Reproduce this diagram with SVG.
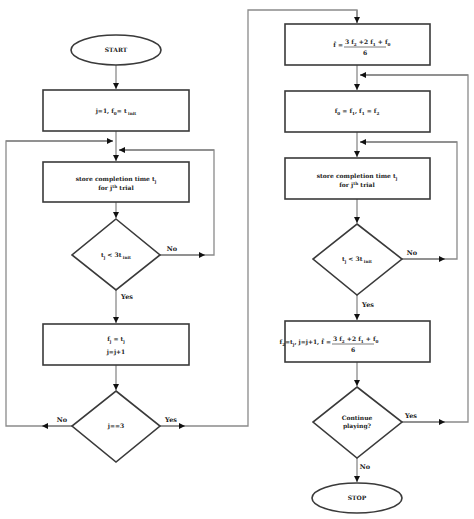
<svg xmlns="http://www.w3.org/2000/svg" width="474" height="519" viewBox="0 0 474 519">
<style>
.box{fill:#fff;stroke:#3a3a3a;stroke-width:1.6}
.con{fill:none;stroke:#8a8a8a;stroke-width:1.3}
text{font-family:"DejaVu Serif","Liberation Serif",serif;font-weight:bold;fill:#222;font-size:6px;text-anchor:middle}
.sm{font-size:4.2px}
.lb{font-size:6.5px}
.e{text-anchor:end}
.s{text-anchor:start}
</style>
<defs>
<marker id="ah" markerWidth="8" markerHeight="8" refX="6" refY="3" orient="auto" markerUnits="userSpaceOnUse">
<path d="M0,0 L6,3 L0,6 Z" fill="#111"/>
</marker>
</defs>
<rect width="474" height="519" fill="#fff"/>
<g id="connectors">
<line class="con" x1="116" y1="65" x2="116" y2="89" marker-end="url(#ah)"/>
<line class="con" x1="116" y1="131" x2="116" y2="161" marker-end="url(#ah)"/>
<polyline class="con" points="72,426 6,426 6,141 113,141"/>
<line class="con" x1="72" y1="426" x2="42" y2="426" marker-end="url(#ah)"/>
<line class="con" x1="6" y1="141" x2="113" y2="141" marker-end="url(#ah)"/>
<polyline class="con" points="160,255 214,255 214,150 119,150"/>
<line class="con" x1="160" y1="255" x2="205" y2="255" marker-end="url(#ah)"/>
<line class="con" x1="214" y1="150" x2="119" y2="150" marker-end="url(#ah)"/>
<line class="con" x1="116" y1="202" x2="116" y2="218" marker-end="url(#ah)"/>
<line class="con" x1="116" y1="290" x2="116" y2="323" marker-end="url(#ah)"/>
<line class="con" x1="116" y1="365" x2="116" y2="390" marker-end="url(#ah)"/>
<polyline class="con" points="160,426 248,426 248,10 357,10 357,23"/>
<line class="con" x1="160" y1="426" x2="185" y2="426" marker-end="url(#ah)"/>
<line class="con" x1="357" y1="10" x2="357" y2="23" marker-end="url(#ah)"/>
<line class="con" x1="357" y1="65" x2="357" y2="90" marker-end="url(#ah)"/>
<polyline class="con" points="402,422 468,422 468,75 360,75"/>
<line class="con" x1="402" y1="422" x2="445" y2="422" marker-end="url(#ah)"/>
<line class="con" x1="468" y1="75" x2="360" y2="75" marker-end="url(#ah)"/>
<line class="con" x1="357" y1="132" x2="357" y2="157" marker-end="url(#ah)"/>
<polyline class="con" points="402,259 457,259 457,142 360,142"/>
<line class="con" x1="402" y1="259" x2="445" y2="259" marker-end="url(#ah)"/>
<line class="con" x1="457" y1="142" x2="360" y2="142" marker-end="url(#ah)"/>
<line class="con" x1="357" y1="199" x2="357" y2="223" marker-end="url(#ah)"/>
<line class="con" x1="357" y1="295" x2="357" y2="320" marker-end="url(#ah)"/>
<line class="con" x1="357" y1="362" x2="357" y2="386" marker-end="url(#ah)"/>
<line class="con" x1="357" y1="458" x2="357" y2="482" marker-end="url(#ah)"/>
<text class="lb" x="172" y="251">No</text>
<text class="lb" x="127" y="299">Yes</text>
<text class="lb" x="62" y="422">No</text>
<text class="lb" x="171" y="422">Yes</text>
<text class="lb" x="412" y="255">No</text>
<text class="lb" x="368" y="307">Yes</text>
<text class="lb" x="411" y="418">Yes</text>
<text class="lb" x="365" y="469">No</text>
</g>
<g id="start">
<ellipse class="box" cx="116" cy="50" rx="45" ry="15"/>
<text x="116" y="52">START</text>
</g>
<g id="init">
<rect class="box" x="43" y="90" width="146" height="41"/>
<text x="116" y="113">j=1,  f<tspan class="sm" dy="1.5">0</tspan><tspan dy="-1.5">= t</tspan><tspan class="sm" dy="1.5"> init</tspan></text>
</g>
<g id="store1">
<rect class="box" x="43" y="162" width="146" height="40"/>
<text x="116" y="181">store completion time  t<tspan class="sm" dy="1.5">j</tspan></text>
<text x="116" y="190">for j<tspan class="sm" dy="-2">th</tspan><tspan dy="2"> trial</tspan></text>
</g>
<g id="check1">
<polygon class="box" points="116,219 160,255 116,290 72,255"/>
<text x="116" y="257">t<tspan class="sm" dy="1.5">j</tspan><tspan dy="-1.5">  &lt;  3t</tspan><tspan class="sm" dy="1.5"> init</tspan></text>
</g>
<g id="assign">
<rect class="box" x="43" y="324" width="146" height="41"/>
<text x="116" y="341">f<tspan class="sm" dy="1.5">j</tspan><tspan dy="-1.5">  =  t</tspan><tspan class="sm" dy="1.5">j</tspan></text>
<text x="116" y="354">j=j+1</text>
</g>
<g id="check3">
<polygon class="box" points="116,391 160,426 116,462 72,426"/>
<text x="116" y="428">j==3</text>
</g>
<g id="estimate">
<rect class="box" x="285" y="24" width="145" height="41"/>
<text class="e" x="343" y="47">f̂ =</text>
<text class="s" x="345" y="44">3 f<tspan class="sm" dy="1.5">2</tspan><tspan dy="-1.5"> +2 f</tspan><tspan class="sm" dy="1.5">1</tspan><tspan dy="-1.5"> + f</tspan><tspan class="sm" dy="1.5">0</tspan></text>
<line x1="344" y1="47" x2="386" y2="47" stroke="#222" stroke-width="0.6"/>
<text x="365" y="55">6</text>
</g>
<g id="shift">
<rect class="box" x="285" y="91" width="145" height="41"/>
<text x="357" y="113">f<tspan class="sm" dy="1.5">0</tspan><tspan dy="-1.5"> = f</tspan><tspan class="sm" dy="1.5">1</tspan><tspan dy="-1.5">,  f</tspan><tspan class="sm" dy="1.5">1</tspan><tspan dy="-1.5"> = f</tspan><tspan class="sm" dy="1.5">2</tspan></text>
</g>
<g id="store2">
<rect class="box" x="285" y="158" width="145" height="41"/>
<text x="357" y="178">store completion time  t<tspan class="sm" dy="1.5">j</tspan></text>
<text x="357" y="187">for j<tspan class="sm" dy="-2">th</tspan><tspan dy="2"> trial</tspan></text>
</g>
<g id="check2">
<polygon class="box" points="357,224 402,259 357,295 313,259"/>
<text x="357" y="261">t<tspan class="sm" dy="1.5">j</tspan><tspan dy="-1.5">  &lt;  3t</tspan><tspan class="sm" dy="1.5"> init</tspan></text>
</g>
<g id="update">
<rect class="box" x="285" y="321" width="145" height="41"/>
<text class="e" x="331" y="344">f<tspan class="sm" dy="1.5">2</tspan><tspan dy="-1.5">=t</tspan><tspan class="sm" dy="1.5">j</tspan><tspan dy="-1.5">, j=j+1, f̂ =</tspan></text>
<text class="s" x="333" y="341">3 f<tspan class="sm" dy="1.5">2</tspan><tspan dy="-1.5"> +2 f</tspan><tspan class="sm" dy="1.5">1</tspan><tspan dy="-1.5"> + f</tspan><tspan class="sm" dy="1.5">0</tspan></text>
<line x1="332" y1="344" x2="374" y2="344" stroke="#222" stroke-width="0.6"/>
<text x="353" y="352">6</text>
</g>
<g id="continue">
<polygon class="box" points="357,387 402,422 357,458 313,422"/>
<text x="357" y="420">Continue</text>
<text x="357" y="428">playing?</text>
</g>
<g id="stop">
<ellipse class="box" cx="357" cy="498" rx="45" ry="15"/>
<text x="357" y="500">STOP</text>
</g>
</svg>
